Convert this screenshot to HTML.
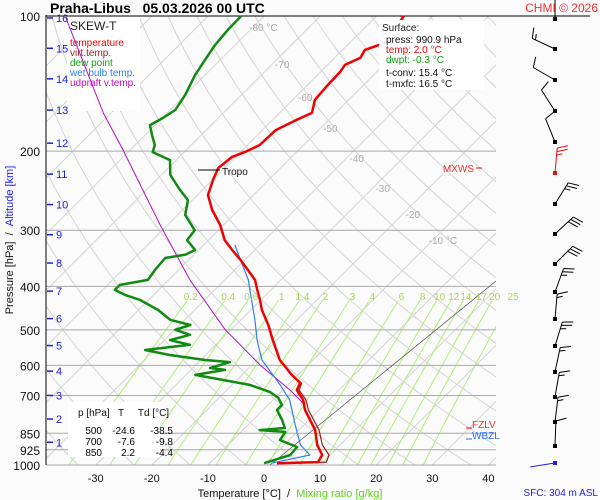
<!DOCTYPE html>
<html><head><meta charset="utf-8"><style>
html,body{margin:0;padding:0;background:#fbfbfb;}
svg{display:block;font-family:"Liberation Sans",sans-serif;}
</style></head><body>
<svg id="c" width="600" height="500" viewBox="0 0 600 500">
<rect x="0" y="0" width="600" height="500" fill="#fbfbfb"/>
<defs><clipPath id="pc"><rect x="46" y="15" width="450" height="450"/></clipPath></defs>
<g id="grid" clip-path="url(#pc)"></g>
<g id="mix" clip-path="url(#pc)"></g>
<g id="hlines"></g>
<g>
<rect x="67" y="17" width="73" height="94" fill="#ffffff"/>
<text x="70" y="30" font-size="12" fill="#222">SKEW-T</text>
<text x="70" y="46" font-size="10" fill="#f00">temperature</text>
<text x="70" y="56" font-size="10" fill="#a02020">virt.temp.</text>
<text x="70" y="66" font-size="10" fill="#10a010">dew point</text>
<text x="70" y="76" font-size="10" fill="#3080f0">wet bulb temp.</text>
<text x="70" y="86" font-size="10" fill="#c010c0">udpraft v.temp.</text>
</g>
<g>
<rect x="68" y="402" width="92" height="55" fill="#ffffff"/>
<text x="78" y="416" font-size="10" fill="#111">p [hPa] &#160;&#160;T &#160;&#160;&#160;&#160;Td [°C]</text>
<text x="102" y="434" font-size="10" text-anchor="end">500</text>
<text x="135" y="434" font-size="10" text-anchor="end">-24.6</text>
<text x="173" y="434" font-size="10" text-anchor="end">-38.5</text>
<text x="102" y="445" font-size="10" text-anchor="end">700</text>
<text x="135" y="445" font-size="10" text-anchor="end">-7.6</text>
<text x="173" y="445" font-size="10" text-anchor="end">-9.8</text>
<text x="102" y="456" font-size="10" text-anchor="end">850</text>
<text x="135" y="456" font-size="10" text-anchor="end">2.2</text>
<text x="173" y="456" font-size="10" text-anchor="end">-4.4</text>
</g>
<g id="series" clip-path="url(#pc)"></g>
<g id="labels"></g>
<g id="winds"></g>

<text x="50" y="13" font-size="14" font-weight="bold">Praha-Libus &#160;&#160;05.03.2026 00 UTC</text>
<text x="598" y="12" font-size="12" fill="#f03030" text-anchor="end">CHMI © 2026</text>

<g>
<rect x="379" y="20" width="105" height="70" fill="#ffffff"/>
<text x="382" y="31" font-size="10" fill="#222">Surface:</text>
<text x="386" y="43" font-size="10" fill="#111">press: 990.9 hPa</text>
<text x="386" y="53" font-size="10" fill="#f00">temp: 2.0 °C</text>
<text x="386" y="63" font-size="10" fill="#10a010">dwpt: -0.3 °C</text>
<text x="386" y="76" font-size="10" fill="#111">t-conv: 15.4 °C</text>
<text x="386" y="87" font-size="10" fill="#111">t-mxfc: 16.5 °C</text>
</g>

<text transform="translate(13,240) rotate(-90)" font-size="11" text-anchor="middle"><tspan fill="#111">Pressure [hPa]</tspan><tspan fill="#111"> &#160;/ &#160;</tspan><tspan fill="#2020e0">Altitude [km]</tspan></text>
<text x="290" y="497" font-size="11" text-anchor="middle"><tspan fill="#111">Temperature [°C] &#160;/ &#160;</tspan><tspan fill="#66cc22">Mixing ratio [g/kg]</tspan></text>
<text x="598" y="496" font-size="10" fill="#2020e0" text-anchor="end">SFC: 304 m ASL</text>

<line x1="198" y1="170" x2="220" y2="170" stroke="#000" stroke-width="1"/>
<text x="222" y="175" font-size="10" fill="#111">Tropo</text>
<line x1="476" y1="168" x2="482" y2="168" stroke="#f00"/>
<text x="474" y="172" font-size="10" fill="#f03030" text-anchor="end">MXWS</text>
<line x1="466" y1="428" x2="472" y2="428" stroke="#f00"/>
<text x="472" y="428" font-size="10" fill="#f03030">FZLV</text>
<line x1="466" y1="439" x2="472" y2="439" stroke="#3070f0"/>
<text x="472" y="439" font-size="10" fill="#3070f0">WBZL</text>
</svg>
<script>
const pLevels=[100,200,300,400,500,600,700,850,925,1000];
const xTicks=[-30,-20,-10,0,10,20,30,40];
const kmLabels=[1,2,3,4,5,6,7,8,9,10,11,12,13,14,15,16];
const kmPressure=[890,790,700,618,542,472,410,355,307,263,225,192,162,138,118,101];
const isoLabels=[-80,-70,-60,-50,-40,-30,-20,-10];
const isoLabelP=[105.7,128,151.6,177.7,207,241.6,276,315.5];
const mixRatios=[0.2,0.4,0.6,1,1.4,2,3,4,6,8,10,12,14,17,20,25];
const tempP=[100,114.8,119,124,128.5,133,144.6,153.8,164.4,170.6,179.5,193.8,201,206,218,232,250.5,270.4,292,315.5,332,349,368,387,407.5,429.3,451.6,487.7,527,583.6,630,656,681,716.6,754,836,902,950,985,990.9];
const tempT=[-55.1,-53.7,-56.0,-55.4,-56.9,-56.5,-56.3,-56.0,-54.2,-55.8,-57.6,-57.8,-59.2,-60.6,-61.1,-59.9,-58.1,-54.7,-50.6,-47.1,-44.0,-40.8,-37.6,-34.6,-32.4,-30.1,-28.0,-24.2,-20.7,-15.9,-11.1,-8.2,-7.5,-4.6,-2.5,2.9,5.9,8.6,9.1,2.0];
const virtP=[656,681,716.6,754,836,902,950,985,990.9];
const virtT=[-7.9,-7.1,-4.1,-1.9,3.6,6.8,9.8,10.6,2.4];
const dewP=[100,107.4,116,125.4,135.3,150,161.9,168.7,175,184,193.8,201,209.4,226,244,257,277.5,300,315.5,332,340,346,368,387,397,407.5,418,429,451.6,475,487.7,500,513,527,540,554.5,569,583.6,590,608,614,630,663,688,709,735,754,794,827,836,844,880,912,950,990.9];
const dewT=[-84.1,-84.0,-83.6,-82.7,-81.8,-80.0,-79.1,-79.9,-80.9,-78.8,-76.5,-75.6,-71.1,-68.4,-64.0,-60.8,-58.6,-54.2,-53.8,-50.6,-51.5,-54.5,-54.2,-53.7,-57.8,-57.8,-55.1,-51.5,-46.5,-42.6,-38.1,-39.9,-36.4,-39.0,-34.6,-41.7,-36.4,-29.2,-24.4,-26.9,-23.9,-28.3,-16.8,-11.9,-9.4,-7.5,-7.5,-4.8,-2.9,-7.0,-2.1,-1.6,2.7,2.9,-0.3];
const wetP=[323.6,349,387,429.3,475,527,583.6,663,716.6,814,902,950,990.9];
const wetT=[-44.4,-40.8,-35.8,-31.6,-27.5,-23.5,-19.1,-11.4,-7.0,-1.6,2.9,6.4,1.0];
const parcelP=[101,164.4,198.7,292,387,500,599,681,735];
const parcelT=[-115,-91.4,-81.3,-61.3,-46.2,-31.0,-18.5,-8.7,-3.4];
const windY=[49,80,111,142,173,204,234,264,292,319,346,372,397,422,446,463];
const windDir=[295,300,327,338,5,32,47,45,20,5,17,12,10,7,2,261];
const windSpd=[15,10,10,10,25,25,30,30,25,15,25,15,15,15,10,5];

const NS='http://www.w3.org/2000/svg';
const Y=p=>465-449*Math.log10(1000/p);
const X=(T,p)=>264+5.61*T+(465-Y(p));
function mk(tag,attrs,parent){const e=document.createElementNS(NS,tag);for(const k in attrs)e.setAttribute(k,attrs[k]);parent.appendChild(e);return e;}
const gridG=document.getElementById('grid'),mixG=document.getElementById('mix'),hlG=document.getElementById('hlines'),serG=document.getElementById('series'),labG=document.getElementById('labels'),windG=document.getElementById('winds');

for(let T=-160;T<=50;T+=10){
  const l=mk('line',{x1:X(T,1000),y1:Y(1000),x2:X(T,100),y2:Y(100),stroke:'#d4d4d4','stroke-width':1},gridG);
  
  
}
for(let th=230;th<=520;th+=10){
  let d='';
  for(let p=1000;p>=100;p-=10){const T=th*Math.pow(p/1000,0.286)-273.15;d+=(d?'L':'M')+X(T,p).toFixed(1)+','+Y(p).toFixed(1);}
  const a=mk('path',{d:d,fill:'none',stroke:'#d4d4d4','stroke-width':1},gridG);
  
  
}
function tdFromW(w,p){const e=w*p/(622+w);const g=Math.log(e/6.112);return 243.5*g/(17.67-g);}
mixRatios.forEach(w=>{
  let d='';
  for(let p=1000;p>=425;p-=15){d+=(d?'L':'M')+X(tdFromW(w,p),p).toFixed(1)+','+Y(p).toFixed(1);}
  const m=mk('path',{d:d,fill:'none',stroke:'#aef07a','stroke-width':1},mixG);
  
  
  const t=mk('text',{x:X(tdFromW(w,420),420),y:Y(420)+4,'font-size':10,fill:'#a8d850','text-anchor':'middle'},labG);
  
  
  t.textContent=String(w);
});
pLevels.forEach(p=>{
  const l=mk('line',{x1:46,y1:Y(p),x2:p==100?590:496,y2:Y(p),stroke:p==100?'#000':'#aaaaaa','stroke-width':1},hlG);
  
  
  const t=mk('text',{x:40,y:Y(p)+5,'font-size':12,'text-anchor':'end',fill:'#111'},labG);
  
  
  t.textContent=String(p);
});
const yAxisLine=mk('line',{x1:46,y1:15,x2:46,y2:465,stroke:'#000','stroke-width':1},hlG);


xTicks.forEach(T=>{
  const t=mk('text',{x:X(T,1000),y:482,'font-size':11,'text-anchor':'middle',fill:'#111'},labG);
  
  
  t.textContent=String(T);
});
kmLabels.forEach((k,i)=>{
  const y=Y(kmPressure[i]);
  const l=mk('line',{x1:47,y1:y,x2:53,y2:y,stroke:'#2020e0','stroke-width':1.5},labG);
  
  
  const t=mk('text',{x:56,y:y+4,'font-size':11,fill:'#2020e0'},labG);
  
  
  t.textContent=String(k);
});
isoLabels.forEach((T,i)=>{
  const p=isoLabelP[i];
  const t=mk('text',{x:X(T,p)+10,y:Y(p)+4,'font-size':10,fill:'#aaaaaa','text-anchor':'middle'},labG);
  
  
  t.textContent=T+(i==0||i==isoLabels.length-1?' °C':'');
});
const rl=mk('line',{x1:270,y1:465,x2:496,y2:281,stroke:'#555','stroke-width':0.7},serG);



function series(P,T,color,w,name){
  const d=P.map((p,i)=>(i?'L':'M')+X(T[i],p).toFixed(1)+','+Y(p).toFixed(1)).join('');
  const s=mk('path',{d:d,fill:'none',stroke:color,'stroke-width':w,'stroke-linejoin':'round'},serG);
  
  
}
series(parcelP,parcelT,'#b010c0',1,'updraft-line');
series(dewP,dewT,'#108a10',2.5,'dew-point-line');
series(wetP,wetT,'#3080f0',1.2,'wet-bulb-line');
series(tempP,tempT,'#3080f0',1.2,'wet-bulb-upper-line');
series(virtP,virtT,'#a01818',1.2,'virtual-temp-line');
series(tempP,tempT,'#f00000',2.5,'temperature-line');

windY.forEach((y,i)=>{
  const x=555;const a=windDir[i]*Math.PI/180;
  const ux=Math.sin(a),uy=-Math.cos(a);
  const px=-uy,py=ux;
  const L=25;
  const last=i==windY.length-1;
  const col=i==4?'#e01010':(last?'#2020e0':'#000');
  let d='M'+x+','+y+'L'+(x+ux*L).toFixed(1)+','+(y+uy*L).toFixed(1);
  let s=windSpd[i],pos=L;
  if(!last){
    while(s>=10){const bx=x+ux*pos,by=y+uy*pos;d+='M'+bx.toFixed(1)+','+by.toFixed(1)+'L'+(bx+(px*0.95+ux*0.3)*11).toFixed(1)+','+(by+(py*0.95+uy*0.3)*11).toFixed(1);pos-=3.5;s-=10;}
    if(s>=5){const bx=x+ux*pos,by=y+uy*pos;d+='M'+bx.toFixed(1)+','+by.toFixed(1)+'L'+(bx+(px*0.95+ux*0.3)*6).toFixed(1)+','+(by+(py*0.95+uy*0.3)*6).toFixed(1);}
  }
  const b=mk('path',{d:d,fill:'none',stroke:col,'stroke-width':1},windG);
  
  
  const r=mk('rect',{x:x-2,y:y-2,width:4,height:4,fill:col},windG);
  
  
});
const topStaff=mk('line',{x1:555,y1:0,x2:555,y2:19,stroke:'#000'},windG);


const topDot=mk('rect',{x:553,y:17,width:4,height:4,fill:'#000'},windG);


</script>
</body></html>
